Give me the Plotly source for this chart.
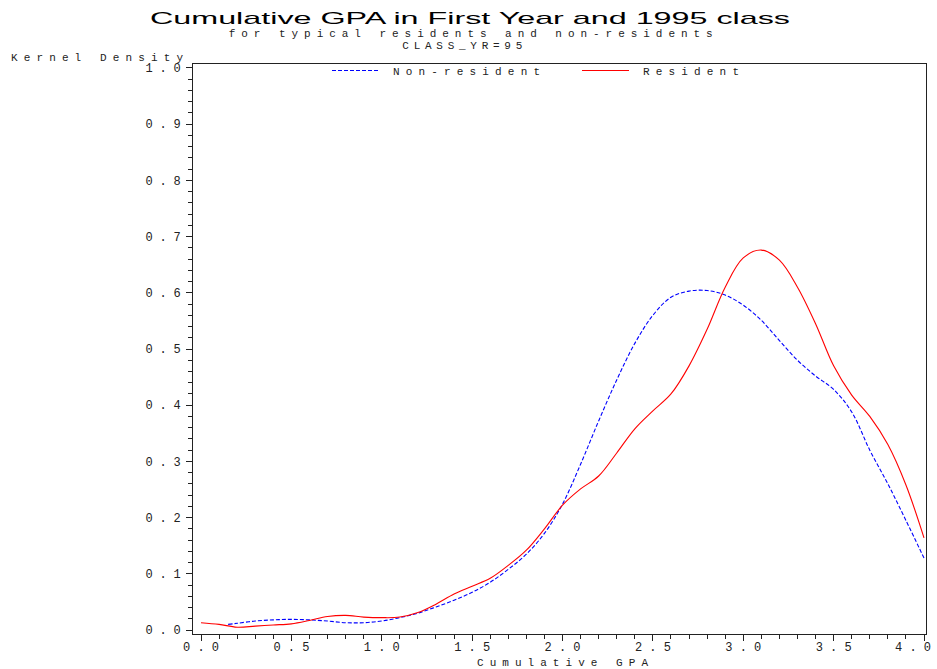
import plotly.graph_objects as go

# ---- data ----
gpa_res = [0.0, 0.1, 0.2, 0.3, 0.4, 0.5, 0.6, 0.7, 0.8, 0.9, 1.0, 1.1, 1.2, 1.3, 1.4,
           1.5, 1.6, 1.7, 1.8, 1.9, 2.0, 2.1, 2.2, 2.3, 2.4, 2.5, 2.6, 2.7, 2.8, 2.9,
           3.0, 3.1, 3.2, 3.3, 3.4, 3.5, 3.6, 3.7, 3.8, 3.9, 4.0]
dens_res = [0.013, 0.010, 0.005, 0.007, 0.009, 0.011, 0.017, 0.024, 0.026, 0.023,
            0.022, 0.023, 0.031, 0.046, 0.064, 0.078, 0.092, 0.115, 0.142, 0.180,
            0.222, 0.251, 0.274, 0.315, 0.358, 0.390, 0.420, 0.470, 0.535, 0.610,
            0.662, 0.676, 0.658, 0.610, 0.545, 0.470, 0.418, 0.380, 0.330, 0.258, 0.164]

gpa_non = [0.15, 0.2, 0.3, 0.4, 0.5, 0.6, 0.7, 0.8, 0.9, 1.0, 1.1, 1.2, 1.3, 1.4,
           1.5, 1.6, 1.7, 1.8, 1.9, 2.0, 2.1, 2.2, 2.3, 2.4, 2.5, 2.6, 2.7, 2.8, 2.9,
           3.0, 3.1, 3.2, 3.3, 3.4, 3.5, 3.6, 3.7, 3.8, 3.9, 4.0]
dens_non = [0.010, 0.012, 0.016, 0.018, 0.019, 0.018, 0.016, 0.013, 0.013, 0.016,
            0.022, 0.030, 0.041, 0.053, 0.067, 0.085, 0.108, 0.135, 0.172, 0.224,
            0.295, 0.372, 0.445, 0.510, 0.560, 0.592, 0.603, 0.604, 0.596, 0.578,
            0.551, 0.515, 0.480, 0.452, 0.428, 0.388, 0.320, 0.260, 0.195, 0.128]

x_ticks = [0.0, 0.5, 1.0, 1.5, 2.0, 2.5, 3.0, 3.5, 4.0]
x_labels = ["0.0", "0.5", "1.0", "1.5", "2.0", "2.5", "3.0", "3.5", "4.0"]
y_ticks = [0.0, 0.1, 0.2, 0.3, 0.4, 0.5, 0.6, 0.7, 0.8, 0.9, 1.0]
y_labels = ["0.0", "0.1", "0.2", "0.3", "0.4", "0.5", "0.6", "0.7", "0.8", "0.9", "1.0"]

MONO = "Liberation Mono, Courier New, monospace"
INK = "#222222"
W, H = 937, 669
L, R, T, B = 193, 11, 64, 35
PW, PH = W - L - R, H - T - B


def px(xp):
    return (xp - L) / PW


def py(yp):
    return (H - B - yp) / PH


fig = go.Figure()
fig.add_trace(go.Scatter(x=gpa_non, y=dens_non, mode="lines", name="Non-resident",
                         line=dict(color="#0000ff", width=1.1, dash="4px,2px", shape="spline")))
fig.add_trace(go.Scatter(x=gpa_res, y=dens_res, mode="lines", name="Resident",
                         line=dict(color="#ff0000", width=1.1, shape="spline")))

fig.update_layout(
    width=W, height=H,
    margin=dict(l=L, r=R, t=T, b=B, autoexpand=False),
    paper_bgcolor="white", plot_bgcolor="white",
    title=dict(text="Cumulative GPA in First Year and 1995 class",
               x=470 / W, xanchor="center", xref="container",
               y=1 - 18 / H, yanchor="middle",
               font=dict(family="Liberation Sans, Arial", size=17, color="black")),
    showlegend=True,
    legend=dict(orientation="h", x=px(327), xanchor="left",
                y=py(64 - 8), yanchor="top", bgcolor="rgba(0,0,0,0)",
                entrywidth=205, entrywidthmode="pixels",
                font=dict(family=MONO, size=11, color=INK)),
    annotations=[
        dict(text="for typical residents and non-residents", xref="paper", yref="paper",
             x=px(470), y=py(34.5), yanchor="middle",
             showarrow=False, font=dict(family=MONO, size=11, color=INK)),
        dict(text="CLASS_YR=95", xref="paper", yref="paper",
             x=px(462), y=py(46), yanchor="middle",
             showarrow=False, font=dict(family=MONO, size=11, color=INK)),
        dict(text="Kernel Density", xref="paper", yref="paper", align="left",
             x=px(9), xanchor="left", y=py(57.5), yanchor="middle",
             showarrow=False, font=dict(family=MONO, size=11, color=INK)),
    ],
)

fig.update_xaxes(range=[-0.0443, 4.011], tickvals=x_ticks, ticktext=x_labels,
                 automargin=False,
                 showgrid=False, zeroline=False, showline=True, linecolor=INK, linewidth=1,
                 mirror=True, ticks="outside", ticklen=6, tickcolor=INK,
                 minor=dict(dtick=0.1, ticks="outside", ticklen=4, tickcolor=INK),
                 tickfont=dict(family=MONO, size=12, color=INK),
                 title=dict(text="Cumulative GPA", standoff=2,
                            font=dict(family=MONO, size=11, color=INK)))
fig.update_yaxes(range=[-0.0071, 1.0071], tickvals=y_ticks, ticktext=y_labels,
                 automargin=False,
                 showgrid=False, zeroline=False, showline=True, linecolor=INK, linewidth=1,
                 mirror=True, ticks="outside", ticklen=6, tickcolor=INK,
                 minor=dict(dtick=0.02, ticks="outside", ticklen=4, tickcolor=INK),
                 tickfont=dict(family=MONO, size=12, color=INK))

# Styling only: page margin and the SAS-like wide letter spacing of the reference's fonts
# (spread with SVG textLength so no trailing space is added).
post = """
document.body.style.margin = '0';
document.body.style.padding = '0';
function each(sel, f){ document.querySelectorAll(sel).forEach(f); }
function spread(e, len){ e.setAttribute('textLength', String(len)); e.setAttribute('lengthAdjust', 'spacing'); }
var xt = document.querySelectorAll('.xtick text');
xt.forEach(function(e, i){ spread(e, 36); e.setAttribute('dy', '-4');
  e.setAttribute('dx', i === xt.length - 1 ? '-11' : '0'); });
each('.ytick text', function(e){ spread(e, 35); e.setAttribute('dx', '-3'); });
var lw = {'Non-resident': 147, 'Resident': 96};
each('.legendtext', function(e){ spread(e, lw[e.textContent] || 100); e.setAttribute('dx', '26'); });
each('.legend .js-line', function(e){ e.setAttribute('d', 'M5,0h47'); });
each('.g-xtitle text', function(e){ spread(e, 171); e.setAttribute('dx', '3'); });
var aw = {'for typical residents and non-residents': 484, 'CLASS_YR=95': 120, 'Kernel Density': 172};
each('.annotation-text', function(e){ spread(e, aw[e.textContent] || 100); });
var t = document.querySelector('.gtitle');
if (t) { t.setAttribute('textLength', '640'); t.setAttribute('lengthAdjust', 'spacingAndGlyphs'); }
"""
fig.write_html("out.html", post_script=post, config={"displayModeBar": False})
